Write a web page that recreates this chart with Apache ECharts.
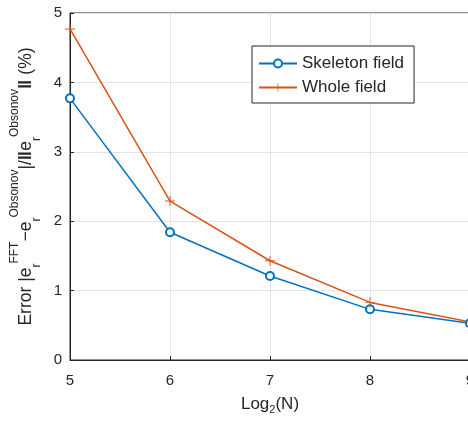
<!DOCTYPE html>
<html><head><meta charset="utf-8">
<script src="https://cdn.jsdelivr.net/npm/echarts@6/dist/echarts.min.js"></script>
<style>html,body{margin:0;padding:0;background:#fff}#c{width:468px;height:425px}</style>
</head><body><div id="c"></div>
<script>
const xValues = [5, 6, 7, 8, 9];
const skeletonField = [3.77, 1.84, 1.21, 0.73, 0.53];
const wholeField = [4.77, 2.29, 1.43, 0.83, 0.55];
const yTicks = [0, 1, 2, 3, 4, 5];
const xTicks = [5, 6, 7, 8, 9];

const chart = echarts.init(document.getElementById('c'));
const font = 'Liberation Sans, Arial, sans-serif';
const ink = '#262626';
const plusPath = 'path://M-0.09,-1 L0.09,-1 L0.09,-0.09 L1,-0.09 L1,0.09 L0.09,0.09 L0.09,1 L-0.09,1 L-0.09,0.09 L-1,0.09 L-1,-0.09 L-0.09,-0.09 Z';
const pair = arr => xValues.map((x, i) => [x, arr[i]]);
const main = {fontSize: 17.5, lineHeight: 34, verticalAlign: 'middle', color: ink, fontFamily: font};
const sup = {fontSize: 12, lineHeight: 13, verticalAlign: 'top', color: ink, fontFamily: font};
const sub = {fontSize: 12, lineHeight: 13, verticalAlign: 'bottom', color: ink, fontFamily: font};
const bold = {fontSize: 19, lineHeight: 34, verticalAlign: 'middle', fontWeight: 'bold', color: ink, fontFamily: font};

chart.setOption({
  animation: false,
  grid: {left: 70, top: 13, width: 400, bottom: 65, outerBoundsMode: 'none', containLabel: false,
         show: true, borderColor: ink, borderWidth: 1, backgroundColor: '#fff'},
  legend: {
    orient: 'vertical', left: 252, top: 46,
    padding: [9, 10, 7, 6],
    itemWidth: 38, itemHeight: 10, itemGap: 7,
    backgroundColor: '#fff', borderColor: ink, borderWidth: 1, borderRadius: 0,
    textStyle: {fontSize: 17, color: ink, fontFamily: font},
    data: ['Skeleton field', 'Whole field']
  },
  xAxis: {
    type: 'value', min: xTicks[0], max: xTicks[xTicks.length - 1], interval: 1,
    name: '{a|Log}{s|2}{a|(N)}', nameLocation: 'middle', nameGap: 33,
    nameTextStyle: {rich: {a: {fontSize: 17, lineHeight: 22, verticalAlign: 'middle', color: ink, fontFamily: font}, s: {fontSize: 11, lineHeight: 10, verticalAlign: 'bottom', color: ink, fontFamily: font}}},
    axisLine: {lineStyle: {color: ink, width: 1}},
    axisTick: {inside: true, length: 4, lineStyle: {color: ink}},
    axisLabel: {fontSize: 15, color: ink, fontFamily: font, margin: 13},
    splitLine: {show: true, lineStyle: {color: '#e3e3e3', width: 1}}
  },
  yAxis: {
    type: 'value', min: yTicks[0], max: yTicks[yTicks.length - 1], interval: 1,
    name: '{m|Error |e}{b|r}{p|FFT}{m|−e}{b|r}{p|Obsonov}{m||/}{k|‖}{m|e}{b|r}{p|Obsonov}{k|‖}{m| (%)}',
    nameLocation: 'middle', nameGap: 26, nameRotate: 90,
    nameTextStyle: {rich: {m: main, p: sup, b: sub, k: bold}},
    axisLine: {show: true, lineStyle: {color: ink, width: 1}},
    axisTick: {show: true, inside: true, length: 4, lineStyle: {color: ink}},
    axisLabel: {fontSize: 15, color: ink, fontFamily: font, margin: 8},
    splitLine: {show: true, lineStyle: {color: '#e3e3e3', width: 1}}
  },
  series: [
    {
      name: 'Skeleton field', type: 'line', data: pair(skeletonField),
      symbol: 'emptyCircle', symbolSize: 8,
      lineStyle: {color: '#0072BD', width: 1.5},
      itemStyle: {color: '#0072BD', borderWidth: 1.5}
    },
    {
      name: 'Whole field', type: 'line', data: pair(wholeField),
      symbol: plusPath, symbolSize: 10,
      lineStyle: {color: '#D95319', width: 1.5},
      itemStyle: {color: '#D95319'}
    }
  ]
});
</script></body></html>
